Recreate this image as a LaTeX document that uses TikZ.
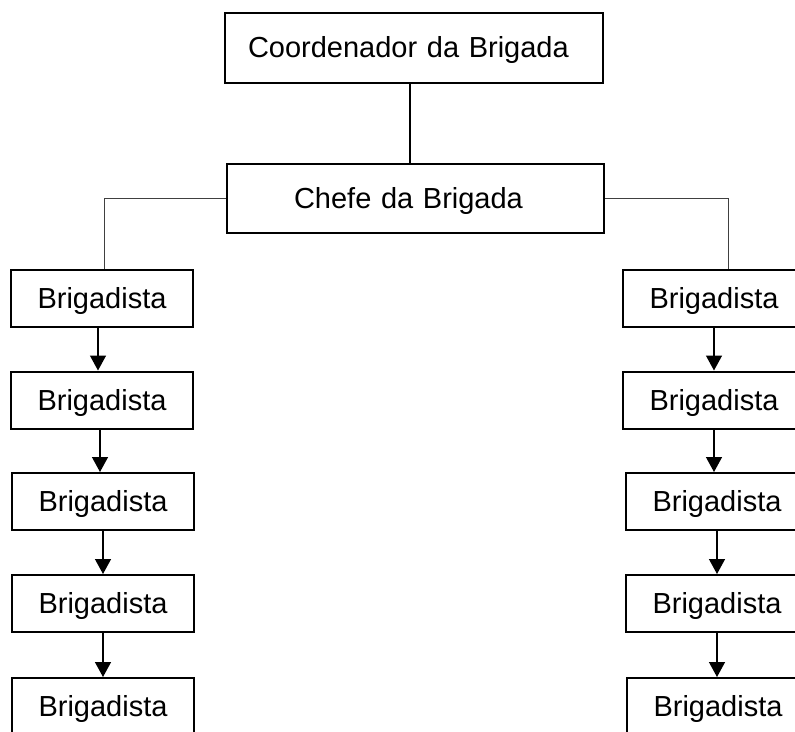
\documentclass[tikz,border=0pt]{standalone}
\usepackage{fontspec}
\setmainfont{Liberation Sans}
\usetikzlibrary{arrows.meta}
\begin{document}
\begin{tikzpicture}[x=1pt,y=-1pt,
  box/.style={draw=black, line width=2pt, fill=white, inner sep=0pt, text height=20.5pt, text depth=0pt, font=\fontsize{29}{33}\selectfont},
  brig/.style={box, minimum width=182pt, minimum height=57pt},
  link/.style={draw=black, line width=1.5pt},
  side/.style={draw=black!75, line width=1pt},
  arr/.style={draw=black, line width=1.4pt, -{Triangle[width=16pt,length=15pt]}}]
\clip (0,0) rectangle (795,731);
\fill[white] (0,0) rectangle (795,731);
% top boxes
\node[box, minimum width=378pt, minimum height=70pt, text width=332pt, inner xsep=23pt, align=left] (coord) at (414,47.5) {Coordenador da Brigada};
\node[box, minimum width=377pt, minimum height=69pt, text width=243pt, inner xsep=67pt, align=left] (chefe) at (415.5,198.5) {Chefe da Brigada};
% left column
\node[brig] (l1) at (102,298.5) {Brigadista};
\node[brig] (l2) at (102,400) {Brigadista};
\node[brig] (l3) at (103,501.5) {Brigadista};
\node[brig] (l4) at (103,603.5) {Brigadista};
\node[brig] (l5) at (103,706.5) {Brigadista};
% right column
\node[brig] (r1) at (714,298.5) {Brigadista};
\node[brig] (r2) at (714,400) {Brigadista};
\node[brig] (r3) at (717,501.5) {Brigadista};
\node[brig] (r4) at (717,603.5) {Brigadista};
\node[brig] (r5) at (718,706.5) {Brigadista};
% connectors
\draw[link] ([xshift=-4pt]coord.south) -- ([xshift=-4pt]coord.south |- chefe.north);
\draw[side] (chefe.west) -| ([xshift=2pt]l1.north);
\draw[side] (chefe.east) -| ([xshift=14pt]r1.north);
\draw[arr] ([xshift=-4pt]l1.south) -- ([xshift=-4pt]l2.north);
\draw[arr] ([xshift=-2pt]l2.south) -- ([xshift=-3pt]l3.north);
\draw[arr] (l3.south) -- (l4.north);
\draw[arr] (l4.south) -- (l5.north);
\draw[arr] (r1.south) -- (r2.north);
\draw[arr] (r2.south) -- (r2.south |- r3.north);
\draw[arr] (r3.south) -- (r4.north);
\draw[arr] (r4.south) -- (r4.south |- r5.north);
\end{tikzpicture}
\end{document}
